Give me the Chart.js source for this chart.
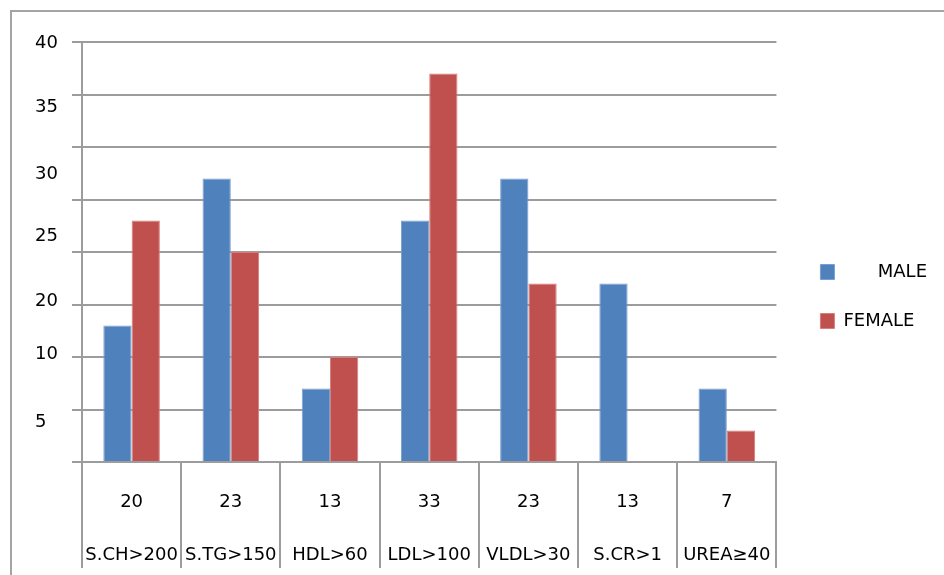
<!DOCTYPE html>
<html>
<head>
<meta charset="utf-8">
<title>Lipid profile by sex</title>
<style>
  html, body { margin: 0; padding: 0; background: #fff; overflow: hidden; }
  #frame {
    position: absolute; left: 10px; top: 10px; width: 1000px; height: 700px;
    border-top: 2px solid #a4a4a4; border-left: 2px solid #a4a4a4;
  }
  #chart { position: absolute; left: 0; top: 0; }
</style>
<script src="https://cdn.jsdelivr.net/npm/chart.js@4/dist/chart.umd.min.js"></script>
</head>
<body>
<div id="frame"></div>
<canvas id="chart" width="944" height="575"></canvas>
<script>
// Test categories and the counts row shown in the data table under the axis
const categories = ['S.CH>200', 'S.TG>150', 'HDL>60', 'LDL>100', 'VLDL>30', 'S.CR>1', 'UREA\u226540'];
const tableCounts = ['20', '23', '13', '33', '23', '13', '7'];

// Series values
const maleValues = [13, 27, 7, 23, 27, 17, 7];
const femaleValues = [23, 20, 10, 37, 17, 0, 3];

// Value-axis labels and where along the axis each one sits
const yTickLabels = ['40', '35', '30', '25', '20', '10', '5'];
const yTickAt = [39.9, 33.8, 27.4, 21.5, 15.3, 10.3, 3.8];

const FONT = '"DejaVu Sans", Verdana, sans-serif';
const GRID = '#9c9c9c';

new Chart(document.getElementById('chart'), {
  type: 'bar',
  data: {
    labels: categories.map((c, i) => [tableCounts[i], c]),
    datasets: [
      {
        label: '      MALE',
        data: maleValues,
        backgroundColor: '#4F81BD',
        borderColor: '#7a9fcf',
        borderWidth: 1,
        borderSkipped: 'start'
      },
      {
        label: 'FEMALE',
        data: femaleValues,
        backgroundColor: '#C0504D',
        borderColor: '#d77e7b',
        borderWidth: 1,
        borderSkipped: 'start'
      }
    ]
  },
  options: {
    responsive: false,
    animation: false,
    devicePixelRatio: 1,
    categoryPercentage: 0.57,
    barPercentage: 1.0,
    layout: { padding: { left: 35, top: 42, right: 7, bottom: 0 } },
    plugins: {
      tooltip: { enabled: false },
      legend: {
        position: 'right',
        align: 'start',
        maxWidth: 300,
        title: { display: true, text: '', padding: 0, font: { family: FONT, size: 18, lineHeight: '190px' } },
        labels: {
          boxWidth: 14,
          boxHeight: 15,
          padding: 31,
          color: '#000',
          font: { family: FONT, size: 18 }
        }
      }
    },
    scales: {
      x: {
        type: 'category',
        position: 'bottom',
        grid: {
          offset: true,
          drawOnChartArea: false,
          drawTicks: true,
          tickLength: 106,
          color: GRID,
          lineWidth: 2
        },
        border: { display: true, color: GRID, width: 2 },
        ticks: {
          color: '#000',
          font: { family: FONT, size: 18, lineHeight: '53px' },
          padding: -92.5,
          maxRotation: 0,
          minRotation: 0,
          autoSkip: false
        },
        afterFit(scale) { scale.height = 113; }
      },
      y: {
        type: 'linear',
        position: 'left',
        weight: 0,
        min: 0,
        max: 40,
        ticks: { display: false, stepSize: 5 },
        grid: { color: GRID, lineWidth: 2, drawTicks: true, tickLength: 10 },
        border: { display: true, color: GRID, width: 2 },
        afterFit(scale) { scale.width = 10; }
      },
      yLabels: {
        type: 'linear',
        position: 'left',
        weight: 1,
        min: 0,
        max: 40,
        grid: { display: false },
        border: { display: false },
        ticks: {
          crossAlign: 'far',
          color: '#000',
          font: { family: FONT, size: 18 },
          callback: (value, index) => yTickLabels[index]
        },
        afterBuildTicks(scale) { scale.ticks = yTickAt.map(v => ({ value: v })); },
        afterFit(scale) { scale.width = 37; }
      },
      legendGap: {
        type: 'linear',
        position: 'right',
        grid: { display: false },
        border: { display: false },
        ticks: { display: false },
        afterFit(scale) { scale.width = 13; }
      }
    }
  }
});
</script>
</body>
</html>
